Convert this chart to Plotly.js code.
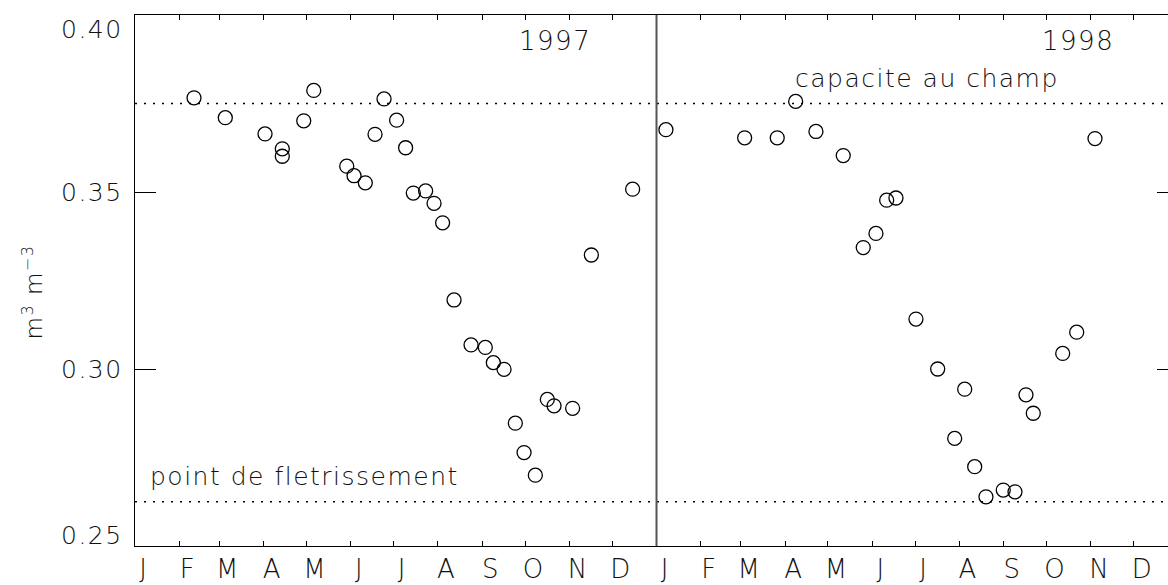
<!DOCTYPE html>
<html>
<head>
<meta charset="utf-8">
<script src="https://cdn.plot.ly/plotly-3.0.1.min.js"></script>
<style>
  html, body { margin: 0; padding: 0; overflow: hidden; background: #fff; }
  #chart { width: 1190px; height: 585px; }
  .annotation-text { letter-spacing: 1.5px; }
</style>
</head>
<body>
<div id="chart"></div>
<script>
// ---- data (day of year, volumetric soil water content) ----
const doy1997 = [41.3, 63.2, 91.0, 103.1, 103.1, 118.1, 125.1, 148.2, 153.3, 161.2, 168.0, 174.3,
                 183.1, 189.4, 194.8, 203.4, 209.3, 215.3, 223.3, 235.2, 245.2, 250.8, 258.3,
                 266.2, 272.3, 280.2, 288.6, 293.3, 306.3, 319.4, 348.3];
const val1997 = [0.3766, 0.3710, 0.3664, 0.3622, 0.3601, 0.3701, 0.3787, 0.3573, 0.3546, 0.3526, 0.3663, 0.3763,
                 0.3703, 0.3625, 0.3497, 0.3503, 0.3468, 0.3413, 0.3195, 0.3068, 0.3061, 0.3018, 0.2999,
                 0.2847, 0.2764, 0.2700, 0.2914, 0.2896, 0.2889, 0.3322, 0.3508];
const doy1998 = [6.6, 61.7, 84.5, 97.4, 111.6, 130.7, 144.7, 153.6, 161.1, 167.6, 181.6, 196.8,
                 208.7, 215.7, 222.7, 230.6, 242.7, 250.9, 258.6, 263.7, 284.3, 294.1, 306.9];
const val1998 = [0.3676, 0.3653, 0.3653, 0.3756, 0.3671, 0.3603, 0.3343, 0.3383, 0.3477, 0.3483, 0.3141, 0.3000,
                 0.2804, 0.2943, 0.2724, 0.2639, 0.2658, 0.2653, 0.2927, 0.2875, 0.3044, 0.3104, 0.3651];

const monthStartDoy = [0, 31, 59, 90, 120, 151, 181, 212, 243, 273, 304, 334];
const monthLabels = ["J", "F", "M", "A", "M", "J", "J", "A", "S", "O", "N", "D"];
const years = ["1997", "1998"];
const yTickVals = [0.40, 0.35, 0.30, 0.25];
const yTickText = ["0.40", "0.35", "0.30", "0.25"];
const fieldCapacity = 0.375;
const wiltingPoint = 0.2625;
const fieldCapacityLabel = "capacite au champ";
const wiltingPointLabel = "point de fletrissement";
const yUnitLabel = "m<sup>3</sup> m<sup>\u22123</sup>";

const YEAR_DAYS = 365;
const FONT = "DejaVu Sans, Liberation Sans, sans-serif";
const TXT = "#111";

// build x positions (days since 1 Jan 1997)
const x1997 = doy1997.slice();
const x1998 = doy1998.map(d => d + YEAR_DAYS);
const tickvals = [], ticktext = [];
years.forEach((y, i) => {
  monthStartDoy.forEach((m, j) => { tickvals.push(m + i * YEAR_DAYS); ticktext.push(monthLabels[j]); });
});

const marker = { symbol: "circle-open", size: 14, color: "#000", line: { width: 1.3, color: "#000" } };
const traces = [
  { x: x1997, y: val1997, type: "scatter", mode: "markers", name: years[0], marker: marker, hoverinfo: "x+y" },
  { x: x1998, y: val1998, type: "scatter", mode: "markers", name: years[1], marker: marker, hoverinfo: "x+y" }
];

const annotations = [];
yTickVals.forEach((v, i) => {
  let anchor = "middle", shift = 0;
  if (i === 0) { anchor = "top"; shift = 2; }
  if (i === yTickVals.length - 1) { anchor = "bottom"; shift = -6; }
  annotations.push({
    xref: "paper", yref: "y", x: 0, y: v, text: yTickText[i], showarrow: false,
    xanchor: "right", yanchor: anchor, xshift: -10, yshift: shift,
    font: { family: FONT, size: 25, color: TXT, weight: 200 }
  });
});
annotations.push({
  xref: "paper", yref: "paper", x: 0, y: 0.5, text: yUnitLabel, showarrow: false,
  textangle: -90, xanchor: "center", yanchor: "middle", xshift: -103, yshift: -12,
  font: { family: FONT, size: 23, color: TXT, weight: 200 }
});
annotations.push({ x: 320.5, y: 0.3927, text: years[0], showarrow: false, xanchor: "right", yanchor: "middle",
  font: { family: FONT, size: 26, color: TXT, weight: 200 } });
annotations.push({ x: 686.6, y: 0.3927, text: years[1], showarrow: false, xanchor: "right", yanchor: "middle",
  font: { family: FONT, size: 26, color: TXT, weight: 200 } });
annotations.push({ x: 460.5, y: 0.3822, text: fieldCapacityLabel, showarrow: false, xanchor: "left", yanchor: "middle",
  font: { family: FONT, size: 25, color: TXT, weight: 200 } });
annotations.push({ x: 9.1, y: 0.2695, text: wiltingPointLabel, showarrow: false, xanchor: "left", yanchor: "middle",
  font: { family: FONT, size: 25, color: TXT, weight: 200 } });

const shapes = [
  { type: "line", xref: "paper", yref: "y", x0: 0, x1: 1, y0: fieldCapacity, y1: fieldCapacity,
    line: { color: "#000", width: 1.6, dash: "2px,7px" } },
  { type: "line", xref: "paper", yref: "y", x0: 0, x1: 1, y0: wiltingPoint, y1: wiltingPoint,
    line: { color: "#000", width: 1.6, dash: "2px,7px" } },
  { type: "line", xref: "x", yref: "paper", x0: YEAR_DAYS, x1: YEAR_DAYS, y0: 0, y1: 1,
    line: { color: "#555", width: 2 } }
];

const layout = {
  width: 1190, height: 585,
  margin: { l: 135, r: 12, t: 15, b: 39, pad: 0 },
  paper_bgcolor: "#fff", plot_bgcolor: "#fff",
  showlegend: false,
  xaxis: {
    range: [0, 2 * YEAR_DAYS], tickmode: "array", tickvals: tickvals, ticktext: ticktext,
    ticks: "inside", ticklen: 5, tickwidth: 1, tickcolor: "#000",
    showline: true, linecolor: "#000", linewidth: 1, mirror: "ticks",
    showgrid: false, zeroline: false, ticklabelshift: 8, ticklabelstandoff: 0,
    tickfont: { family: FONT, size: 26, color: TXT, weight: 200 }
  },
  yaxis: {
    range: [0.25, 0.40], tickmode: "array", tickvals: yTickVals, ticktext: yTickText,
    showticklabels: false,
    ticks: "inside", ticklen: 21, tickwidth: 1, tickcolor: "#000",
    showline: true, linecolor: "#000", linewidth: 1, mirror: "ticks",
    showgrid: false, zeroline: false
  },
  annotations: annotations,
  shapes: shapes
};

Plotly.newPlot("chart", traces, layout, { displayModeBar: false, staticPlot: true });
</script>
</body>
</html>
